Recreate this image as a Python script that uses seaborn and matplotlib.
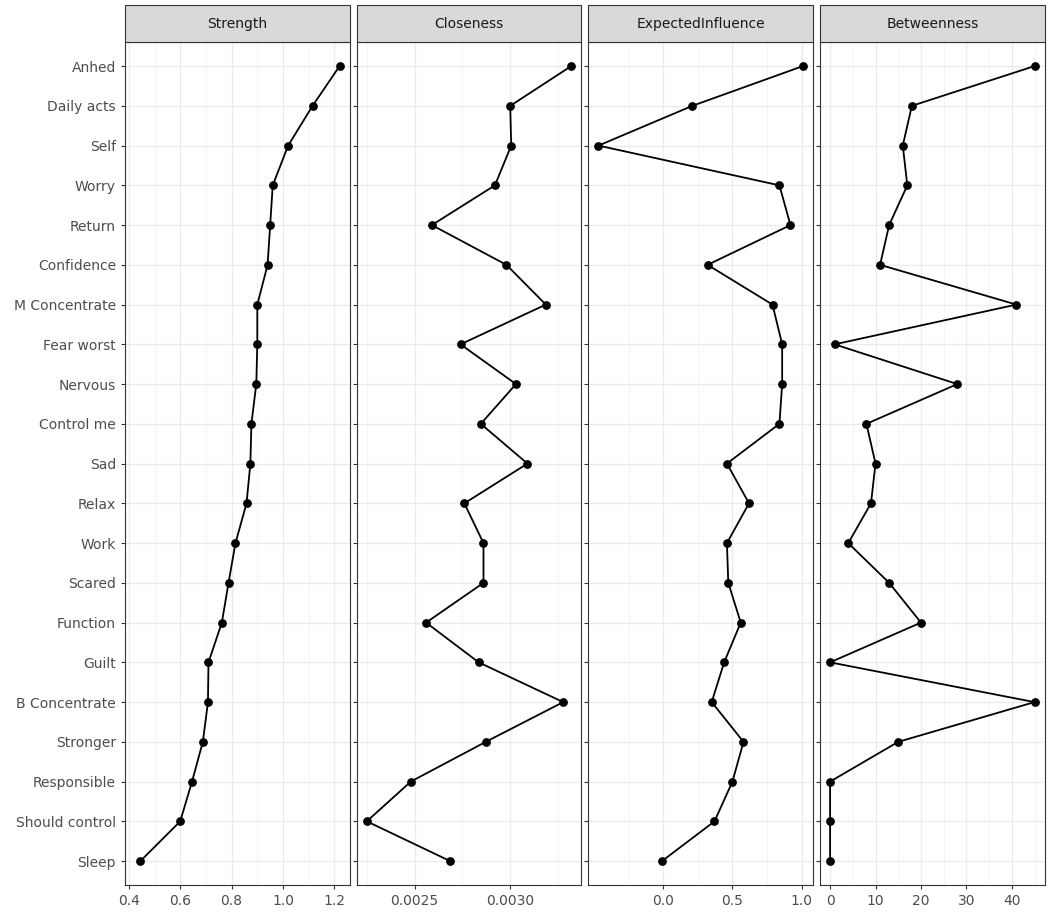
import numpy as np
import pandas as pd
import seaborn as sns
import matplotlib.pyplot as plt
from matplotlib.patches import Rectangle
from matplotlib.ticker import FixedLocator

nodes = ["Anhed", "Daily acts", "Self", "Worry", "Return", "Confidence", "M Concentrate",
         "Fear worst", "Nervous", "Control me", "Sad", "Relax", "Work", "Scared", "Function",
         "Guilt", "B Concentrate", "Stronger", "Responsible", "Should control", "Sleep"]

strength = [1.22, 1.115, 1.02, 0.96, 0.95, 0.94, 0.90, 0.90, 0.896, 0.877, 0.873, 0.858,
            0.815, 0.788, 0.762, 0.71, 0.708, 0.688, 0.646, 0.60, 0.445]
closeness = [0.003319, 0.00300, 0.003005, 0.00292, 0.00259, 0.00298, 0.003186, 0.00274,
             0.00303, 0.002846, 0.00309, 0.00276, 0.00286, 0.00286, 0.00256, 0.002835,
             0.003277, 0.002872, 0.00248, 0.00225, 0.002686]
expected_influence = [1.01, 0.21, -0.47, 0.84, 0.92, 0.32, 0.79, 0.86, 0.86, 0.84, 0.46,
                      0.62, 0.46, 0.47, 0.56, 0.44, 0.35, 0.58, 0.50, 0.37, -0.01]
betweenness = [45, 18, 16, 17, 13, 11, 41, 1, 28, 8, 10, 9, 4, 13, 20, 0, 45, 15, 0, 0, 0]

measures = ["Strength", "Closeness", "ExpectedInfluence", "Betweenness"]
series = [strength, closeness, expected_influence, betweenness]
ticks = [[0.4, 0.6, 0.8, 1.0, 1.2], [0.0025, 0.0030], [0.0, 0.5, 1.0], [0, 10, 20, 30, 40]]
ticklabels = [["0.4", "0.6", "0.8", "1.0", "1.2"], ["0.0025", "0.0030"],
              ["0.0", "0.5", "1.0"], ["0", "10", "20", "30", "40"]]
xlims = [(0.385, 1.26), None, None, None]

df = pd.concat([pd.DataFrame({"node": nodes, "value": v, "measure": m})
                for m, v in zip(measures, series)])
df["ypos"] = df["node"].map({n: len(nodes) - 1 - i for i, n in enumerate(nodes)})

g = sns.FacetGrid(df, col="measure", col_order=measures, sharex=False, sharey=True,
                  height=9.18, aspect=0.3, despine=False)
g.figure.set_size_inches(10.5, 9.18)

def draw(data, **kw):
    ax = plt.gca()
    ax.plot(data["value"], data["ypos"], color="black", lw=1.3, zorder=3)
    ax.scatter(data["value"], data["ypos"], color="black", s=28, zorder=4)

g.map_dataframe(draw)

for ax, m, tk, tl, xl in zip(g.axes.flat, measures, ticks, ticklabels, xlims):
    ax.set_title("")
    ax.set_xlabel("")
    ax.set_ylabel("")
    ax.set_xticks(tk)
    ax.set_xticklabels(tl, fontsize=10, color="#4d4d4d")
    ax.margins(x=0.05)
    if xl:
        ax.set_xlim(*xl)
    step = tk[1] - tk[0]
    minor = np.arange(tk[0] - step / 2, tk[-1] + step, step)
    ax.xaxis.set_minor_locator(FixedLocator(minor))
    ax.set_ylim(-0.6, len(nodes) - 0.4)
    ax.set_yticks(range(len(nodes)))
    ax.set_yticklabels(nodes[::-1], fontsize=10, color="#4d4d4d")
    ax.grid(True, which="major", color="#ebebeb", lw=1.0, zorder=0)
    ax.grid(True, which="minor", axis="x", color="#f3f3f3", lw=0.6, zorder=0)
    ax.set_axisbelow(True)
    ax.tick_params(which="minor", length=0)
    ax.tick_params(which="major", length=3, color="#333333")
    for s in ax.spines.values():
        s.set_color("#333333")
        s.set_linewidth(0.8)
    ax.add_patch(Rectangle((0, 1.0), 1, 0.044, transform=ax.transAxes, fc="#d9d9d9",
                           ec="#333333", lw=0.8, clip_on=False, zorder=5))
    ax.text(0.5, 1.022, m, transform=ax.transAxes, ha="center", va="center", fontsize=10,
            color="#1a1a1a", zorder=6)

g.figure.subplots_adjust(left=0.119, right=0.995, top=0.954, bottom=0.036, wspace=0.03)
g.figure.savefig("out.png", dpi=100)
